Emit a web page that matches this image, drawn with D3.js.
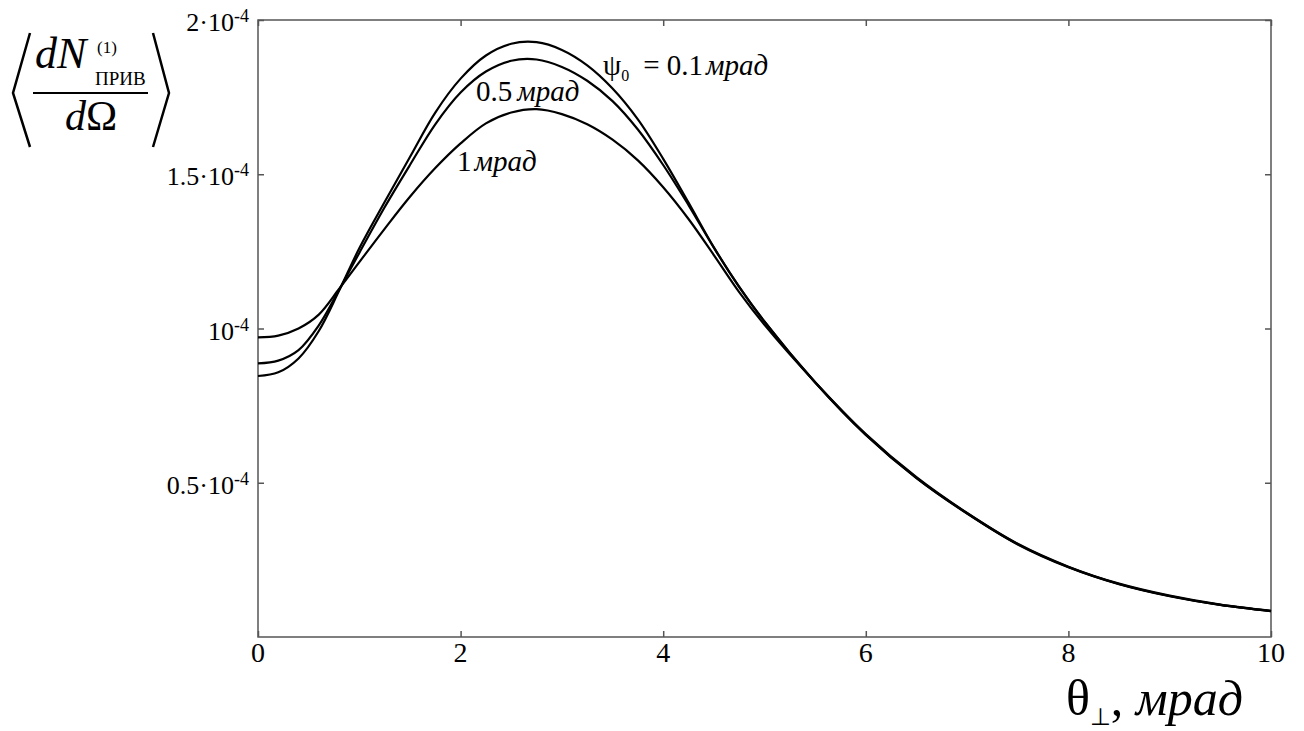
<!DOCTYPE html>
<html>
<head>
<meta charset="utf-8">
<script src="https://cdn.jsdelivr.net/npm/d3@7"></script>
<style>
  body { margin: 0; background: #fff; }
  text { font-family: "Liberation Serif", "Times New Roman", serif; fill: #000; }
</style>
</head>
<body>
<svg id="chart" width="1304" height="731"></svg>
<script>
// theta, mrad
var theta = [0, 0.2, 0.4, 0.6, 0.8, 1.0, 1.25, 1.5, 1.75, 2.0, 2.25, 2.5, 2.75, 3.0, 3.25, 3.5, 3.75, 4.0, 4.25, 4.5, 4.75, 5.0, 5.5, 6, 6.5, 7, 7.5, 8, 8.5, 9, 9.5, 10]
// values in units of 1e-4
var psi01 = [0.846, 0.858, 0.903, 0.992, 1.122, 1.260, 1.410, 1.556, 1.700, 1.810, 1.885, 1.923, 1.928, 1.903, 1.853, 1.778, 1.678, 1.550, 1.408, 1.263, 1.135, 1.023, 0.825, 0.655, 0.515, 0.400, 0.300, 0.226, 0.171, 0.132, 0.104, 0.084]
var psi05 = [0.887, 0.896, 0.930, 1.010, 1.125, 1.245, 1.393, 1.530, 1.662, 1.765, 1.833, 1.868, 1.872, 1.848, 1.803, 1.737, 1.645, 1.530, 1.400, 1.262, 1.135, 1.022, 0.826, 0.656, 0.516, 0.401, 0.301, 0.227, 0.172, 0.133, 0.104, 0.084]
var psi1  = [0.971, 0.977, 1.000, 1.045, 1.128, 1.215, 1.323, 1.427, 1.520, 1.600, 1.665, 1.700, 1.711, 1.695, 1.662, 1.612, 1.545, 1.458, 1.355, 1.238, 1.118, 1.012, 0.826, 0.658, 0.518, 0.402, 0.302, 0.228, 0.173, 0.134, 0.105, 0.085]

var xTicks = [0, 2, 4, 6, 8, 10]
var yTicks = [0.5, 1, 1.5, 2]
var yTickLabels = ["0.5\u00b710", "10", "1.5\u00b710", "2\u00b710"]

var svg = d3.select("#chart")
var x = d3.scaleLinear().domain([0, 10]).range([258, 1271])
var y = d3.scaleLinear().domain([0, 2]).range([637, 20])

// frame
svg.append("rect")
  .attr("x", x(0)).attr("y", y(2))
  .attr("width", x(10) - x(0)).attr("height", y(0) - y(2))
  .attr("fill", "none").attr("stroke", "#555").attr("stroke-width", 1.5)

function ticksOnly(g) {
  g.select(".domain").remove()
  g.selectAll(".tick line").attr("stroke", "#555").attr("stroke-width", 1.5)
  g.selectAll(".tick text").remove()
}
svg.append("g").attr("transform", "translate(0," + y(0) + ")")
  .call(d3.axisBottom(x).tickValues(xTicks).tickSize(-6)).call(ticksOnly)
svg.append("g").attr("transform", "translate(0," + y(2) + ")")
  .call(d3.axisTop(x).tickValues(xTicks).tickSize(-6)).call(ticksOnly)
svg.append("g").attr("transform", "translate(" + x(0) + ",0)")
  .call(d3.axisLeft(y).tickValues(yTicks).tickSize(-6)).call(ticksOnly)
svg.append("g").attr("transform", "translate(" + x(10) + ",0)")
  .call(d3.axisRight(y).tickValues(yTicks).tickSize(-6)).call(ticksOnly)

// x tick labels
svg.selectAll(".xl").data(xTicks).enter().append("text")
  .attr("x", function(d) { return x(d) }).attr("y", 662)
  .attr("text-anchor", "middle").style("font-size", "28px")
  .text(function(d) { return d })

// y tick labels with exponent
yTicks.forEach(function(v, i) {
  var t = svg.append("text")
    .attr("x", 249).attr("y", y(v) + 11)
    .attr("text-anchor", "end").style("font-size", "26px")
  t.append("tspan").text(yTickLabels[i])
  t.append("tspan").attr("dy", -9).style("font-size", "18px").text("-4")
})

// curves
var line = d3.line()
  .x(function(d) { return x(d[0]) })
  .y(function(d) { return y(d[1]) })
  .curve(d3.curveCatmullRom.alpha(0.5))
;[psi01, psi05, psi1].forEach(function(s) {
  svg.append("path")
    .datum(theta.map(function(t, i) { return [t, s[i]] }))
    .attr("d", line)
    .attr("fill", "none").attr("stroke", "#000").attr("stroke-width", 2.2)
})

// curve labels
var l1 = svg.append("text").attr("x", 603).attr("y", 75).style("font-size", "29px")
l1.append("tspan").text("\u03c8")
l1.append("tspan").attr("dy", 6).style("font-size", "16px").text("0")
l1.append("tspan").attr("dy", -6).attr("dx", 14).text("= 0.1")
l1.append("tspan").attr("dx", 3).style("font-style", "italic").text("\u043c\u0440\u0430\u0434")

var l2 = svg.append("text").attr("x", 476).attr("y", 101).style("font-size", "29px")
l2.append("tspan").text("0.5")
l2.append("tspan").attr("dx", 5).style("font-style", "italic").text("\u043c\u0440\u0430\u0434")

var l3 = svg.append("text").attr("x", 457).attr("y", 171).style("font-size", "29px")
l3.append("tspan").text("1")
l3.append("tspan").attr("dx", 3).style("font-style", "italic").text("\u043c\u0440\u0430\u0434")

// x axis title
var xt = svg.append("text").attr("x", 1066).attr("y", 715).style("font-size", "50px")
xt.append("tspan").text("\u03b8")
xt.append("tspan").attr("dy", 10).style("font-size", "24px")
  .style("font-family", "DejaVu Sans").text("\u22a5")
xt.append("tspan").attr("dy", -10).text(", ")
xt.append("tspan").style("font-style", "italic").text("\u043c\u0440\u0430\u0434")

// y axis title: < dN^(1)_ПРИВ / dΩ >
var yl = svg.append("g")
yl.append("path").attr("d", "M30,33 L13,93 L30,147")
  .attr("fill", "none").attr("stroke", "#000").attr("stroke-width", 2.5)
yl.append("path").attr("d", "M153,33 L169,93 L153,147")
  .attr("fill", "none").attr("stroke", "#000").attr("stroke-width", 2.5)
yl.append("line").attr("x1", 33).attr("x2", 148).attr("y1", 93).attr("y2", 93)
  .attr("stroke", "#000").attr("stroke-width", 2)
yl.append("text").attr("x", 35).attr("y", 68).style("font-size", "44px")
  .style("font-style", "italic").text("dN")
yl.append("text").attr("x", 97).attr("y", 53).style("font-size", "17px").text("(1)")
yl.append("text").attr("x", 95).attr("y", 85).style("font-size", "19px").text("\u041f\u0420\u0418\u0412")
var dO = yl.append("text").attr("x", 91).attr("y", 130).attr("text-anchor", "middle").style("font-size", "42px")
dO.append("tspan").style("font-style", "italic").text("d")
dO.append("tspan").text("\u03a9")
</script>
</body>
</html>
